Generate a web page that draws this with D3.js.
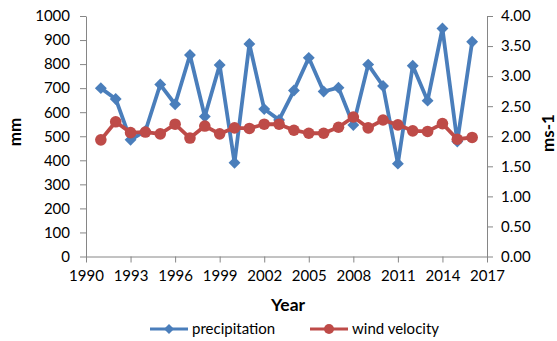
<!DOCTYPE html>
<html>
<head>
<meta charset="utf-8">
<script src="https://cdn.jsdelivr.net/npm/d3@7"></script>
<style>
  html, body { margin: 0; padding: 0; background: #fff; }
  svg text { font-family: Lato, "Open Sans", "Liberation Sans", Arial, sans-serif; fill: #000; }
</style>
</head>
<body>
<svg id="chart" width="557" height="341"></svg>
<script>
// Annual series, 1991–2016
const years = [1991, 1992, 1993, 1994, 1995, 1996, 1997, 1998, 1999, 2000,
               2001, 2002, 2003, 2004, 2005, 2006, 2007, 2008, 2009, 2010,
               2011, 2012, 2013, 2014, 2015, 2016];
const precipitation = [700, 655, 485, 522, 715, 633, 838, 582, 796, 390,
                       884, 613, 568, 690, 826, 686, 702, 547, 798, 709,
                       386, 793, 648, 948, 478, 893];
const windVelocity = [1.94, 2.24, 2.06, 2.07, 2.04, 2.20, 1.97, 2.17, 2.04, 2.14,
                      2.13, 2.20, 2.20, 2.10, 2.05, 2.05, 2.15, 2.32, 2.14, 2.27,
                      2.19, 2.09, 2.08, 2.21, 1.95, 1.98];
const xTicks = [1990, 1993, 1996, 1999, 2002, 2005, 2008, 2011, 2014, 2017];
const mmTicks = [0, 100, 200, 300, 400, 500, 600, 700, 800, 900, 1000];
const msTicks = [0, 0.5, 1, 1.5, 2, 2.5, 3, 3.5, 4];

const seriesInfo = [
  { name: "precipitation", color: "#4a7ebb", symbol: "diamond" },
  { name: "wind velocity", color: "#be4b48", symbol: "circle" }
];

const svg = d3.select("#chart");
const plot = { left: 86, right: 487, top: 16, bottom: 256.5 };
const axisColor = "#868686";
const tickFont = "15px";

const x = d3.scaleLinear().domain([1990, 2017]).range([plot.left, plot.right]);
const yL = d3.scaleLinear().domain([0, 1000]).range([plot.bottom, plot.top]);
const yR = d3.scaleLinear().domain([0, 4]).range([plot.bottom, plot.top]);

function styleAxis(g) {
  g.select(".domain").attr("stroke", axisColor).attr("stroke-width", 1);
  g.selectAll(".tick line").attr("stroke", axisColor);
  g.selectAll(".tick text").style("font-size", tickFont).attr("fill", "#000");
}

// Axes
svg.append("g").attr("transform", `translate(${plot.left},0)`)
  .call(d3.axisLeft(yL).tickValues(mmTicks).tickSize(6).tickSizeOuter(0).tickPadding(10)
    .tickFormat(d3.format("d")))
  .call(styleAxis);

svg.append("g").attr("transform", `translate(${plot.right},0)`)
  .call(d3.axisRight(yR).tickValues(msTicks).tickSize(6).tickSizeOuter(0).tickPadding(8)
    .tickFormat(d3.format(".2f")))
  .call(styleAxis);

svg.append("g").attr("transform", `translate(0,${plot.bottom})`)
  .call(d3.axisBottom(x).tickValues(xTicks).tickSize(6).tickSizeOuter(0).tickPadding(8)
    .tickFormat(d3.format("d")))
  .call(styleAxis);

// Axis titles
svg.append("text").attr("transform", `translate(15.5,132) rotate(-90)`)
  .attr("text-anchor", "middle").attr("dy", "0.35em")
  .style("font-size", "17px").style("font-weight", "bold")
  .text("mm");
svg.append("text").attr("transform", `translate(548,133) rotate(-90)`)
  .attr("text-anchor", "middle").attr("dy", "0.35em")
  .style("font-size", "17px").style("font-weight", "bold")
  .text("ms-1");
svg.append("text").attr("x", 288).attr("y", 305).attr("dy", "0.35em")
  .attr("text-anchor", "middle").style("font-size", "17.5px").style("font-weight", "bold")
  .text("Year");

// Series
const diamond = d3.symbol().type(d3.symbolDiamond2).size(90);
function drawSeries(values, yScale, info) {
  const pts = years.map((yr, i) => [x(yr), yScale(values[i])]);
  svg.append("path").attr("d", d3.line()(pts))
    .attr("fill", "none").attr("stroke", info.color).attr("stroke-width", 3.8)
    .attr("stroke-linejoin", "round");
  const g = svg.append("g");
  pts.forEach(p => {
    if (info.symbol === "diamond") {
      g.append("path").attr("d", diamond()).attr("transform", `translate(${p[0]},${p[1]})`)
        .attr("fill", info.color);
    } else {
      g.append("circle").attr("cx", p[0]).attr("cy", p[1]).attr("r", 5.8)
        .attr("fill", info.color);
    }
  });
}
drawSeries(precipitation, yL, seriesInfo[0]);
drawSeries(windVelocity, yR, seriesInfo[1]);

// Legend
const legendX = [150, 310];
seriesInfo.forEach((s, i) => {
  const lg = svg.append("g").attr("transform", `translate(${legendX[i]},329)`);
  lg.append("line").attr("x1", 0).attr("x2", 38).attr("y1", 0).attr("y2", 0)
    .attr("stroke", s.color).attr("stroke-width", 3);
  if (s.symbol === "diamond") {
    lg.append("path").attr("d", d3.symbol().type(d3.symbolDiamond2).size(64)())
      .attr("transform", "translate(19,0)").attr("fill", s.color);
  } else {
    lg.append("circle").attr("cx", 19).attr("cy", 0).attr("r", 5).attr("fill", s.color);
  }
  lg.append("text").attr("x", 42).attr("y", 0).attr("dy", "0.35em")
    .style("font-size", tickFont).text(s.name);
});
</script>
</body>
</html>
